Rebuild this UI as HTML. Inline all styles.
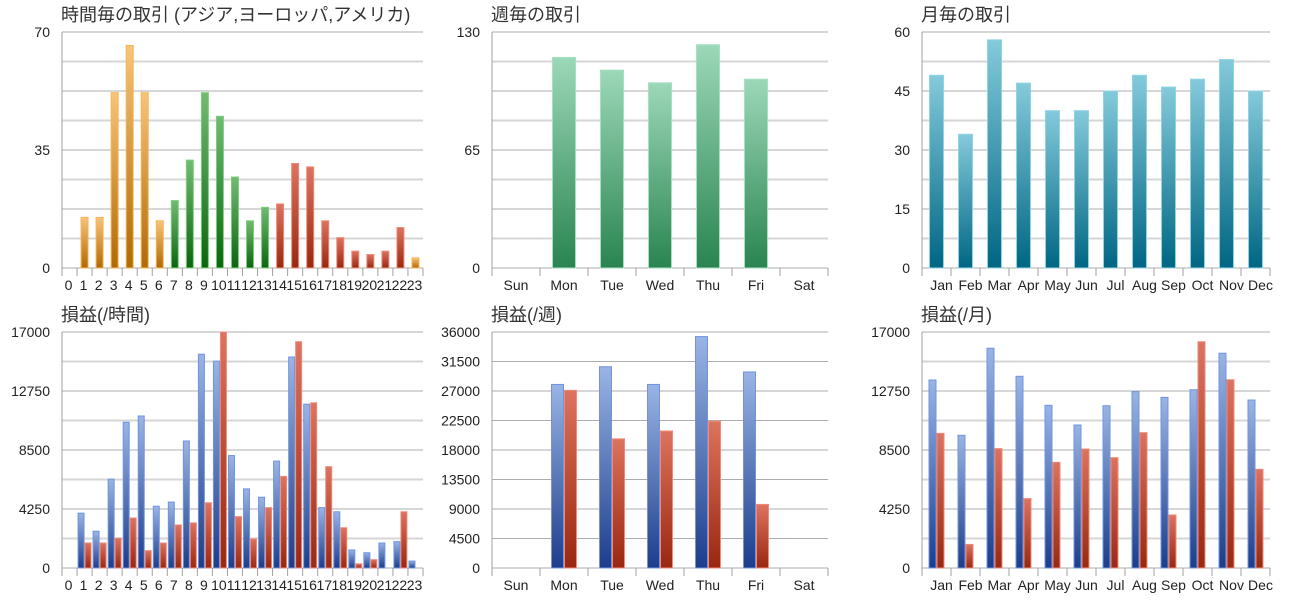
<!DOCTYPE html>
<html><head><meta charset="utf-8"><style>
body{margin:0;background:#fff;}
svg text{font-family:"Liberation Sans","Noto Sans CJK JP",sans-serif;}
</style></head><body>
<svg id="s" width="1290" height="600" xmlns="http://www.w3.org/2000/svg">
<defs>
<linearGradient id="gO" x1="0" y1="0" x2="0" y2="1"><stop offset="0" stop-color="#f7c47a"/><stop offset="1" stop-color="#b06a05"/></linearGradient>
<linearGradient id="gG" x1="0" y1="0" x2="0" y2="1"><stop offset="0" stop-color="#72bb72"/><stop offset="1" stop-color="#0b650f"/></linearGradient>
<linearGradient id="gR" x1="0" y1="0" x2="0" y2="1"><stop offset="0" stop-color="#dc7360"/><stop offset="1" stop-color="#982810"/></linearGradient>
<linearGradient id="gB" x1="0" y1="0" x2="0" y2="1"><stop offset="0" stop-color="#9ab4e4"/><stop offset="1" stop-color="#1d3d8a"/></linearGradient>
<linearGradient id="gM" x1="0" y1="0" x2="0" y2="1"><stop offset="0" stop-color="#9cd8b9"/><stop offset="1" stop-color="#2a8450"/></linearGradient>
<linearGradient id="gT" x1="0" y1="0" x2="0" y2="1"><stop offset="0" stop-color="#84cadb"/><stop offset="1" stop-color="#006683"/></linearGradient>
</defs>
</svg>
<script>
var s=document.getElementById('s'),h='';
function t(x,y,str,anc,size,col){h+='<text x="'+x+'" y="'+y+'" font-size="'+(size||14)+'" fill="'+(col||'#222')+'" text-anchor="'+(anc||'middle')+'">'+str+'</text>';}
function chart(o){
 var x0=o.x0,x1=o.x1,top=o.top,bot=o.bot,n=o.cats.length,cw=(x1-x0)/n,H=bot-top;
 t(o.x0-1,top-11,o.title,'start',18,'#333');
 for(var i=0;i<=8;i++){var y=top+H*i/8;
  if(i%o.lab==0){h+='<line x1="'+x0+'" x2="'+x1+'" y1="'+y+'" y2="'+y+'" stroke="#adadad" stroke-width="1"/>';
   t(x0-12,y+5,Math.round(o.max*(8-i)/8),'end',14);}
  else h+='<line x1="'+x0+'" x2="'+x1+'" y1="'+y+'" y2="'+y+'" stroke="#d6d6d6" stroke-width="2"/>';}
 h+='<line x1="'+x0+'" x2="'+x0+'" y1="'+top+'" y2="'+(bot+8)+'" stroke="#a0a0a0"/>';
 for(var i=0;i<=n;i++){var x=x0+cw*i;h+='<line x1="'+x+'" x2="'+x+'" y1="'+bot+'" y2="'+(bot+8)+'" stroke="#a0a0a0"/>';}
 for(var i=0;i<n;i++){var c=x0+cw*(i+0.5);t(c+(o.lo||0),bot+22,o.cats[i]);
  var ser=o.series,bw=o.bw,tot=bw*ser.length,st=c-tot/2;
  for(var k=0;k<ser.length;k++){var v=ser[k].d[i];if(!v)continue;var hh=v/o.max*H;
   var f=ser[k].f?ser[k].f(i):ser[k].c;
   h+='<rect x="'+(st+k*bw+0.5)+'" y="'+(bot-hh)+'" width="'+(bw-1)+'" height="'+hh+'" fill="url(#'+f+')" stroke="'+ser[k].s(i)+'" stroke-width="1"/>';}}
}
var hrs=[];for(var i=0;i<24;i++)hrs.push(i);
function hc(i){return (i<=6||i==23)?'gO':(i<=13?'gG':'gR');}
function hs(i){return (i<=6||i==23)?'#f9b454':(i<=13?'#7ccf7c':'#ee8a78');}
chart({x0:62,x1:423,top:32,bot:268,max:70,lab:4,title:'時間毎の取引 (アジア,ヨーロッパ,アメリカ)',cats:hrs,bw:8,lo:-1,
 series:[{d:[0,15,15,52,66,52,14,20,32,52,45,27,14,18,19,31,30,14,9,5,4,5,12,3],f:hc,s:hs}]});
chart({x0:62,x1:423,top:332,bot:568,max:17000,lab:2,title:'損益(/時間)',cats:hrs,bw:7,lo:-1,
 series:[{d:[0,3950,2650,6400,10500,10950,4450,4750,9150,15400,14900,8100,5700,5100,7700,15200,11800,4350,4050,1300,1100,1800,1900,500],c:'gB',s:function(){return '#6f95e0';}},
 {d:[0,1800,1800,2150,3600,1250,1800,3100,3250,4700,17000,3700,2100,4350,6600,16300,11900,7300,2900,300,600,0,4050,0],c:'gR',s:function(){return '#ee8a78';}}]});
var wd=['Sun','Mon','Tue','Wed','Thu','Fri','Sat'];
chart({x0:492,x1:828,top:32,bot:268,max:130,lab:4,title:'週毎の取引',cats:wd,bw:24,
 series:[{d:[0,116,109,102,123,104,0],c:'gM',s:function(){return '#a6e0c2';}}]});
chart({x0:492,x1:828,top:332,bot:568,max:36000,lab:1,title:'損益(/週)',cats:wd,bw:13,
 series:[{d:[0,28000,30700,28000,35300,29900,0],c:'gB',s:function(){return '#6f95e0';}},
 {d:[0,27100,19700,20900,22400,9700,0],c:'gR',s:function(){return '#ee8a78';}}]});
var mo=['Jan','Feb','Mar','Apr','May','Jun','Jul','Aug','Sep','Oct','Nov','Dec'];
chart({x0:922,x1:1270,top:32,bot:268,max:60,lab:2,title:'月毎の取引',cats:mo,bw:15,lo:5,
 series:[{d:[49,34,58,47,40,40,45,49,46,48,53,45],c:'gT',s:function(){return '#8fd4e4';}}]});
chart({x0:922,x1:1270,top:332,bot:568,max:17000,lab:2,title:'損益(/月)',cats:mo,bw:8,lo:5,
 series:[{d:[13540,9560,15830,13810,11720,10300,11690,12700,12290,12840,15470,12100],c:'gB',s:function(){return '#6f95e0';}},
 {d:[9700,1700,8600,5000,7610,8570,7950,9750,3820,16300,13560,7110],c:'gR',s:function(){return '#ee8a78';}}]});
s.innerHTML+=h;
</script>
</body></html>
